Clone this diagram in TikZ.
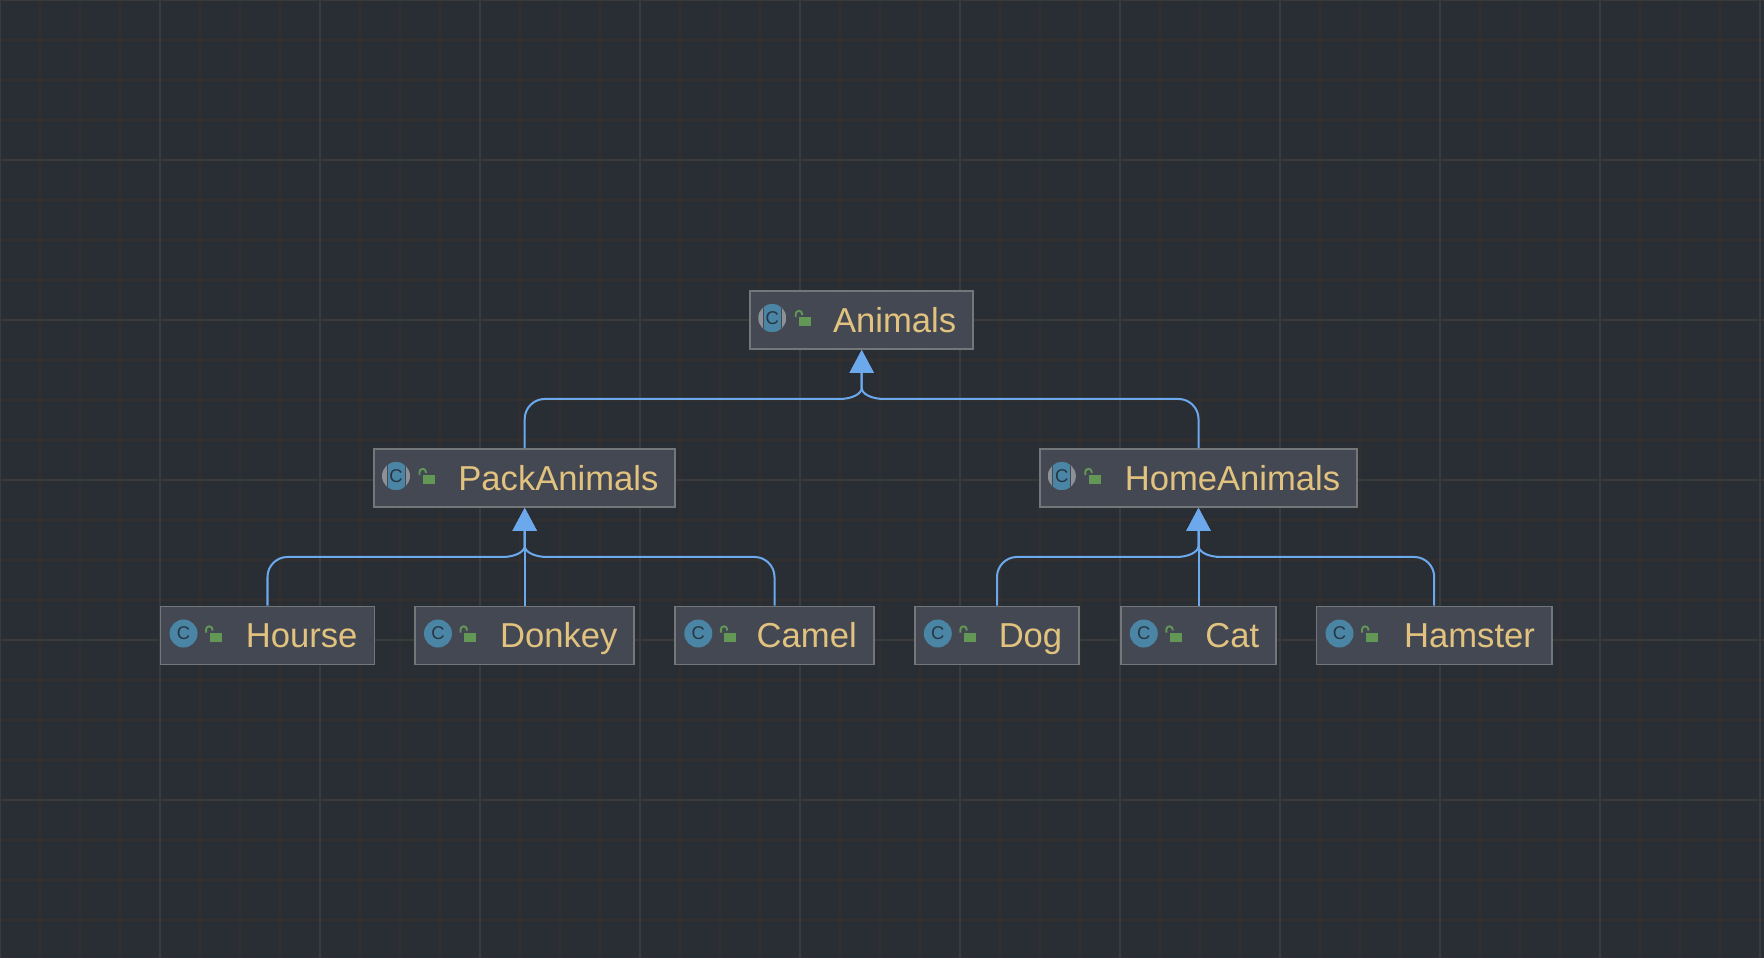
\documentclass[tikz,border=0pt]{standalone}
\usepackage{fontspec}
\setmainfont{Liberation Sans}
\usetikzlibrary{arrows.meta,calc,positioning}
\definecolor{canvasbg}{HTML}{292D34}
\definecolor{gridminor}{HTML}{322F2E}
\definecolor{gridmajor}{HTML}{3A3A3A}
\definecolor{boxfill}{HTML}{434852}
\definecolor{boxline}{HTML}{74777A}
\definecolor{namecol}{HTML}{E2C27F}
\definecolor{linkcol}{HTML}{6CA8EC}
\definecolor{iconblue}{HTML}{4B85A5}
\definecolor{icondark}{HTML}{263642}
\definecolor{icongray}{HTML}{8C9097}
\definecolor{lockgreen}{HTML}{629755}
\tikzset{clsbox/.style={draw=boxline,fill=boxfill,line width=1.1pt,text=namecol,align=right,
    text width=#1,inner xsep=0.34cm,inner ysep=0pt,minimum height=1.16cm,text height=0.48cm,text depth=0cm,
    font=\fontsize{19.7}{22}\selectfont},
  inherit/.style={linkcol,line width=1.15pt,-{Triangle[length=0.46cm,width=0.48cm]}}}
\newcommand{\lockmark}[1]{%
  \begin{scope}[shift={(#1.west)}]
  \fill[lockgreen] (50,-3) rectangle (62,6);
  \draw[lockgreen,line width=1.1pt] (46.5,-3)--(46.5,-6) arc[start angle=180,end angle=360,radius=3.2]--(52.9,-5);
  \end{scope}}
\newcommand{\classmark}[1]{%
  \begin{scope}[shift={(#1.west)}]
  \fill[iconblue] (24,-2) circle[radius=14];
  \node[icondark,font=\fontsize{10.5}{12}\selectfont] (#1mark) at (24,-2) {C};
  \end{scope}\lockmark{#1}}
\newcommand{\abstractmark}[1]{%
  \begin{scope}[shift={(#1.west)}]
  \begin{scope}
  \clip (23,-2) circle[radius=14];
  \fill[icongray] (9,-16) rectangle (37,12);
  \fill[boxfill] (13.5,-16) rectangle (32.5,12);
  \fill[iconblue] (14.5,-16) rectangle (31.5,12);
  \end{scope}
  \node[icondark,font=\fontsize{10.5}{12}\selectfont] (#1mark) at (23,-2) {C};
  \end{scope}\lockmark{#1}}
% child, joint, parent, side of the bus (1 or -1)
\newcommand{\inheritlink}[4]{%
  \draw[inherit] (#1.north) -- ($(#1.north |- #2)+(0,20)$)
    .. controls ($(#1.north |- #2)+(0,9)$) and ($(#1.north |- #2)+(#4*9,0)$) .. ($(#1.north |- #2)+(#4*20,0)$)
    -- ($(#2)+(#4*-22,0)$)
    .. controls ($(#2)+(#4*-10,0)$) and ($(#2)+(0,-5)$) .. ($(#2)+(0,-11)$) -- (#3.south);}

\begin{document}
\begin{tikzpicture}[x=0.02cm,y=-0.02cm]
\useasboundingbox (0,0) rectangle (1764,958);
\clip (0,0) rectangle (1764,958);
\fill[canvasbg] (0,0) rectangle (1764,958);
% grid
\foreach \x in {0,40,...,1760} \draw[gridminor,line width=0.8pt] (\x,0)--(\x,958);
\foreach \y in {0,40,...,920} \draw[gridminor,line width=0.8pt] (0,\y)--(1764,\y);
\foreach \x in {0,160,...,1760} \draw[gridmajor,line width=1pt] (\x,0)--(\x,958);
\foreach \y in {0,160,...,800} \draw[gridmajor,line width=1pt] (0,\y)--(1764,\y);
% classes
\node[clsbox=3.78cm] (Animals) at (861.7,320) {Animals};
\node[clsbox=5.35cm] (PackAnimals) at (524.7,478) {PackAnimals};
\node[clsbox=5.67cm] (HomeAnimals) at (1198.5,478) {HomeAnimals};
\node[clsbox=3.60cm] (Hourse) at (267.5,635.5) {Hourse};
\node[clsbox=3.71cm] (Donkey) at (524.7,635.5) {Donkey};
\node[clsbox=3.29cm] (Camel) at (774.5,635.5) {Camel};
\node[clsbox=2.61cm] (Dog) at (997,635.5) {Dog};
\node[clsbox=2.43cm] (Cat) at (1198.5,635.5) {Cat};
\node[clsbox=4.03cm] (Hamster) at (1434.2,635.5) {Hamster};
\abstractmark{Animals}
\abstractmark{PackAnimals}
\abstractmark{HomeAnimals}
\classmark{Hourse}
\classmark{Donkey}
\classmark{Camel}
\classmark{Dog}
\classmark{Cat}
\classmark{Hamster}
% joints on the bus lines
\coordinate (topjoint) at ([yshift=-0.98cm]Animals.south);
\coordinate (packjoint) at ([yshift=-0.98cm]PackAnimals.south);
\coordinate (homejoint) at ([yshift=-0.98cm]HomeAnimals.south);
% links
\inheritlink{PackAnimals}{topjoint}{Animals}{1}
\inheritlink{HomeAnimals}{topjoint}{Animals}{-1}
\inheritlink{Hourse}{packjoint}{PackAnimals}{1}
\draw[inherit] (Donkey.north) -- (PackAnimals.south);
\inheritlink{Camel}{packjoint}{PackAnimals}{-1}
\inheritlink{Dog}{homejoint}{HomeAnimals}{1}
\draw[inherit] (Cat.north) -- (HomeAnimals.south);
\inheritlink{Hamster}{homejoint}{HomeAnimals}{-1}
\end{tikzpicture}
\end{document}
